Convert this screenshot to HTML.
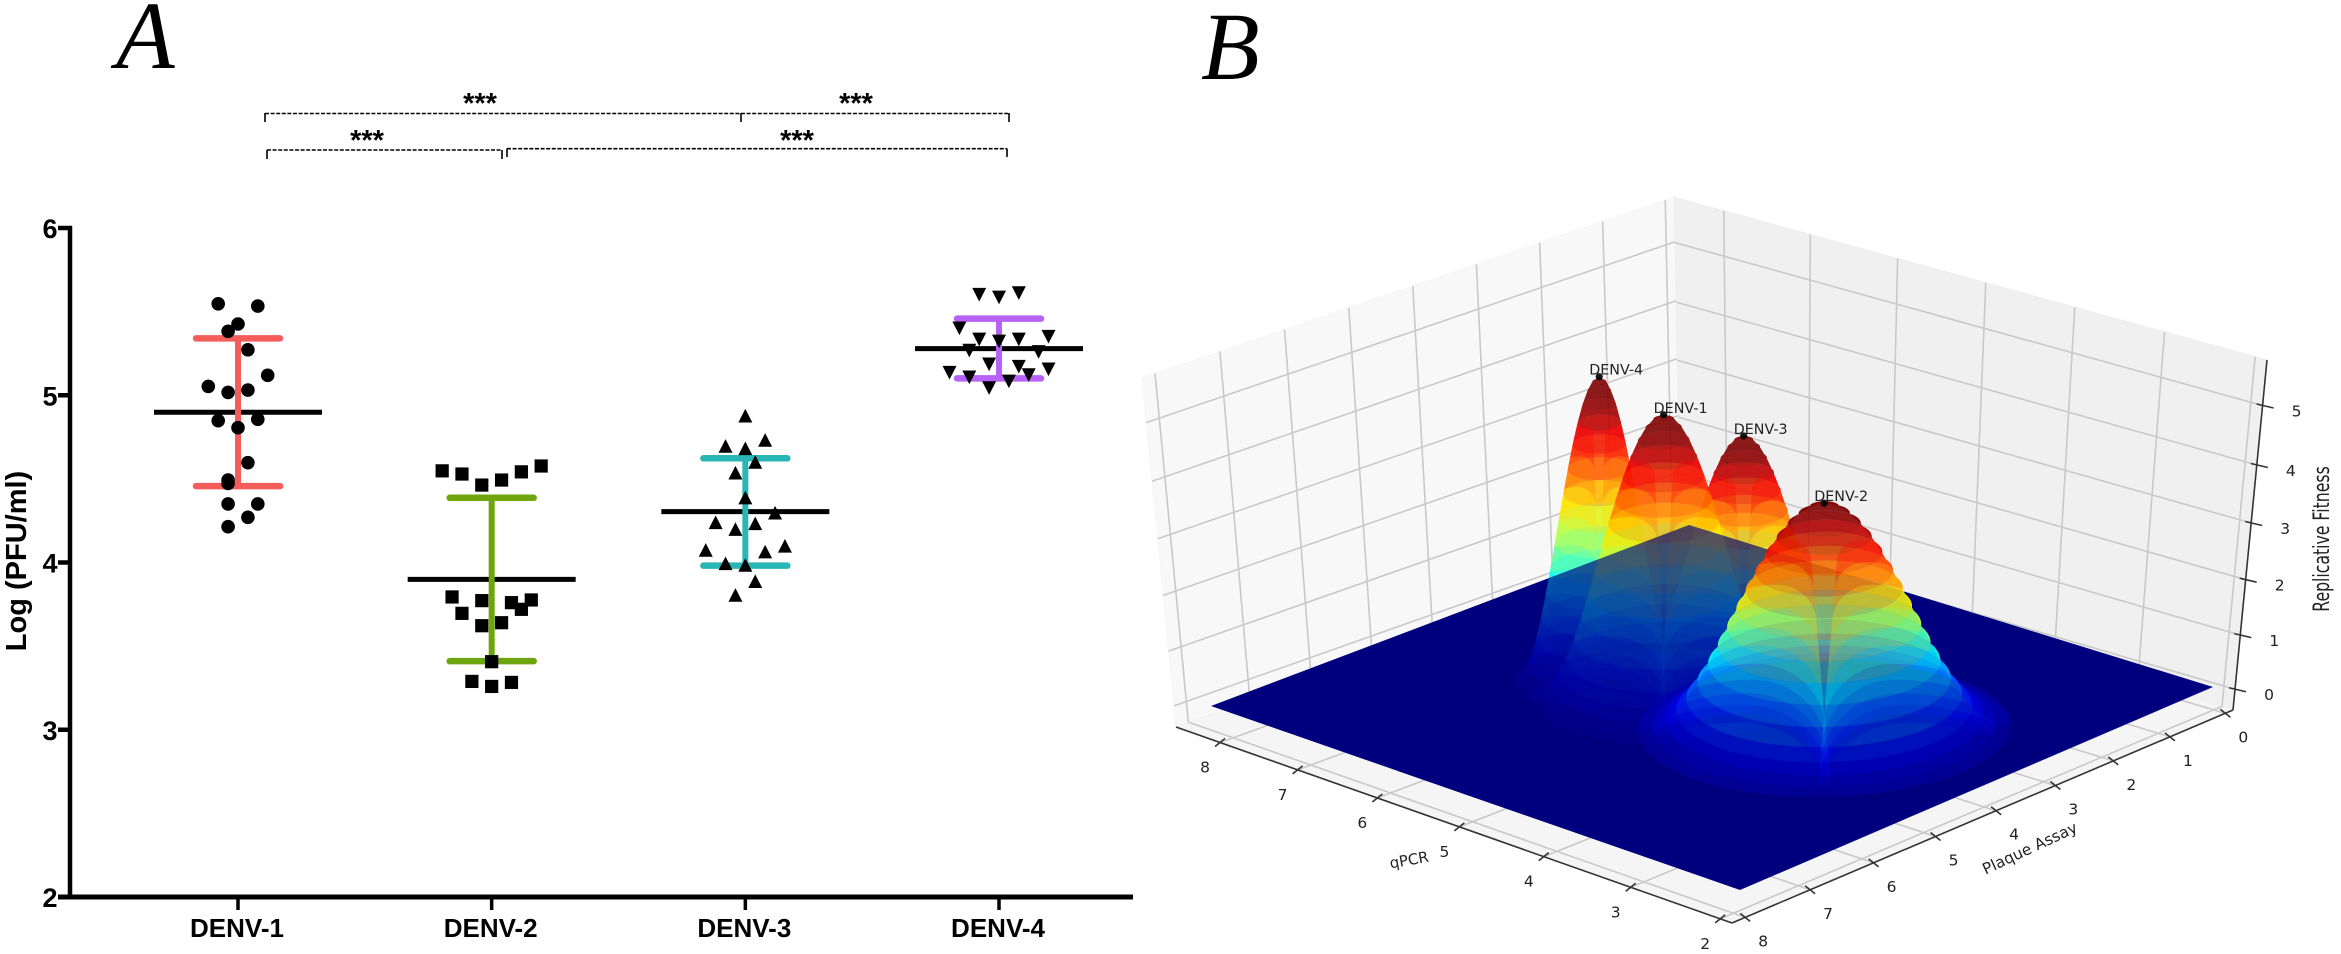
<!DOCTYPE html>
<html lang="en">
<head>
<meta charset="utf-8">
<title>DENV plaque titers and replicative fitness</title>
<style>
html,body{margin:0;padding:0;background:#fff;}
svg{display:block;}
.sans{font-family:"Liberation Sans",sans-serif;font-weight:bold;fill:#000;}
.panel{font-family:"Liberation Serif",serif;font-style:italic;font-size:96px;fill:#000;}
.dj{font-family:"DejaVu Sans",sans-serif;fill:#222;}
.br{fill:none;stroke:#000;stroke-width:1.6;stroke-dasharray:4 1.6;}
.brt{fill:none;stroke:#000;stroke-width:1.6;}
</style>
</head>
<body>
<svg id="figure" xmlns="http://www.w3.org/2000/svg" width="2341" height="954" viewBox="0 0 2341 954">
  <rect x="0" y="0" width="2341" height="954" fill="#fff"/>
  <text class="panel" x="116" y="68">A</text>
  <text class="panel" x="1201" y="79">B</text>

  <g id="significance">
    <path class="br" d="M265 113.5H741"/>
    <path class="brt" d="M265 113V122M741 113V122"/>
    <path class="br" d="M741 113.5H1009"/>
    <path class="brt" d="M1009 113V122"/>
    <path class="br" d="M267 150H502"/>
    <path class="brt" d="M267 150V159M502 150V159"/>
    <path class="br" d="M507 148.7H1007"/>
    <path class="brt" d="M507 148.5V157M1007 148.5V157"/>
    <text class="sans" x="480" y="113" font-size="29" text-anchor="middle">***</text>
    <text class="sans" x="856" y="113" font-size="29" text-anchor="middle">***</text>
    <text class="sans" x="367" y="150" font-size="29" text-anchor="middle">***</text>
    <text class="sans" x="797" y="150" font-size="29" text-anchor="middle">***</text>
  </g>

  <g id="panel-a"></g>
  <text class="sans" font-size="29" text-anchor="middle" transform="translate(26 561) rotate(-90)">Log (PFU/ml)</text>

  <defs id="dyn-defs"><clipPath id="floor-clip"><polygon id="floor-clip-shape" points="0,0"></polygon></clipPath></defs>
  <g id="panel-b"></g>
</svg>

<script>
// ---------- Panel A data ----------
const categories = ['DENV-1', 'DENV-2', 'DENV-3', 'DENV-4'];
const yTicks = [2, 3, 4, 5, 6];
const groupMeans = [4.898, 3.899, 4.304, 5.279];
const groupUpper = [5.340, 4.387, 4.623, 5.458];
const groupLower = [4.457, 3.410, 3.981, 5.101];
const groupColors = ['#f55d5b', '#6ea50c', '#2bb6b6', '#b862f5'];
const denv1Values = [5.547, 5.533, 5.426, 5.382, 5.272, 5.119, 5.053, 5.031, 5.017, 4.856, 4.848, 4.806, 4.597, 4.493, 4.473, 4.350, 4.350, 4.270, 4.214];
const denv1Jitter = [-2, 2, 0, -1, 1, 3, -3, 1, -1, 2, -2, 0, 1, -1, -1, -1, 2, 1, -1];
const denv2Values = [4.548, 4.529, 4.463, 4.493, 4.542, 4.577, 3.794, 3.772, 3.760, 3.776, 3.720, 3.696, 3.640, 3.622, 3.407, 3.289, 3.283, 3.259];
const denv2Jitter = [-5, -3, -1, 1, 3, 5, -4, -1, 2, 4, 3, -3, 1, -1, 0, -2, 2, 0];
const denv3Values = [4.878, 4.733, 4.697, 4.683, 4.601, 4.537, 4.388, 4.298, 4.240, 4.234, 4.200, 4.075, 4.100, 4.065, 3.995, 3.985, 3.888, 3.806];
const denv3Jitter = [0, 2, -2, 0, 1, -1, 0, 3, -3, 1, -1, -4, 4, 2, -2, 0, 1, -1];
const denv4Values = [5.601, 5.585, 5.611, 5.400, 5.350, 5.334, 5.322, 5.334, 5.267, 5.259, 5.185, 5.171, 5.155, 5.135, 5.107, 5.121, 5.083, 5.043];
const denv4Jitter = [-2, 0, 2, -4, 5, -2, 0, 2, -3, 4, -1, 2, 5, -5, -3, 3, 1, -1];

// ---------- Panel B data ----------
const peakNames = ['DENV-4', 'DENV-3', 'DENV-1', 'DENV-2'];
const peakQpcr = [5.93, 4.98, 5.27, 3.80];
const peakPlaque = [4.55, 3.51, 4.43, 3.92];
const peakHeight = [5.28, 4.30, 4.90, 3.90];
const peakSpreadQ = [0.32, 0.45, 0.49, 0.69];
const peakSpreadP = [0.45, 0.62, 0.69, 0.97];
const qpcrTicks = [8, 7, 6, 5, 4, 3, 2];
const plaqueTicks = [0, 1, 2, 3, 4, 5, 6, 7, 8];
const fitnessTicks = [0, 1, 2, 3, 4, 5];

const NS = 'http://www.w3.org/2000/svg';
function mk(tag, attrs, parent, text) {
  const el = document.createElementNS(NS, tag);
  for (const k in attrs) el.setAttribute(k, attrs[k]);
  if (text !== undefined) el.textContent = text;
  parent.appendChild(el);
  return el;
}

// ---------- Panel A drawing ----------
const pa = document.getElementById('panel-a');
const yScale = v => 897 - (v - 2) * 167.25;
const xScale = i => 238 + 253.67 * i;
const jitterScale = j => j * 9.9;

let el;
el = mk('line', {x1: 70, y1: 226, x2: 70, y2: 899, stroke: '#000', 'stroke-width': 4.5}, pa);


el = mk('line', {x1: 58, y1: 897, x2: 1133, y2: 897, stroke: '#000', 'stroke-width': 5}, pa);



yTicks.forEach(t => {
  const tick = mk('line', {x1: 58, y1: yScale(t), x2: 72, y2: yScale(t), stroke: '#000', 'stroke-width': 4.5}, pa);
  
  
  const label = mk('text', {x: 50, y: yScale(t) + 10, 'font-size': 27, 'text-anchor': 'middle', class: 'sans'}, pa, String(t));
  
  
});

categories.forEach((c, i) => {
  const cx = xScale(i);
  const tick = mk('line', {x1: cx, y1: 897, x2: cx, y2: 910, stroke: '#000', 'stroke-width': 3.5}, pa);
  
  
  const label = mk('text', {x: cx - 1, y: 937, 'font-size': 26, 'text-anchor': 'middle', class: 'sans'}, pa, c);
  
  

  const mean = mk('line', {x1: cx - 84, y1: yScale(groupMeans[i]), x2: cx + 84, y2: yScale(groupMeans[i]), stroke: '#000', 'stroke-width': 5}, pa);
  
  
  const bar = mk('line', {x1: cx, y1: yScale(groupUpper[i]), x2: cx, y2: yScale(groupLower[i]), stroke: groupColors[i], 'stroke-width': 6}, pa);
  
  
  [groupUpper[i], groupLower[i]].forEach((v, k) => {
    const cap = mk('line', {x1: cx - 42, y1: yScale(v), x2: cx + 42, y2: yScale(v), stroke: groupColors[i], 'stroke-width': 6.5, 'stroke-linecap': 'round'}, pa);
    
    
  });
});

function drawPoints(values, jitter, i, shape, name) {
  values.forEach((v, k) => {
    const x = xScale(i) + jitterScale(jitter[k]);
    const y = yScale(v);
    let m;
    if (shape === 'circle') m = mk('circle', {cx: x, cy: y, r: 6.8, fill: '#000'}, pa);
    if (shape === 'square') m = mk('rect', {x: x - 6.6, y: y - 6.6, width: 13.2, height: 13.2, fill: '#000'}, pa);
    if (shape === 'up') m = mk('polygon', {points: (x - 7) + ',' + (y + 6.8) + ' ' + (x + 7) + ',' + (y + 6.8) + ' ' + x + ',' + (y - 6.8), fill: '#000'}, pa);
    if (shape === 'down') m = mk('polygon', {points: (x - 7) + ',' + (y - 6.8) + ' ' + (x + 7) + ',' + (y - 6.8) + ' ' + x + ',' + (y + 6.8), fill: '#000'}, pa);
    
    
  });
}
drawPoints(denv1Values, denv1Jitter, 0, 'circle', 'denv-1');
drawPoints(denv2Values, denv2Jitter, 1, 'square', 'denv-2');
drawPoints(denv3Values, denv3Jitter, 2, 'up', 'denv-3');
drawPoints(denv4Values, denv4Jitter, 3, 'down', 'denv-4');

// ---------- Panel B projection ----------
function homography(p0, p1, p2, p3) {
  const dx1 = p1[0] - p2[0], dx2 = p3[0] - p2[0], sx = p0[0] - p1[0] + p2[0] - p3[0];
  const dy1 = p1[1] - p2[1], dy2 = p3[1] - p2[1], sy = p0[1] - p1[1] + p2[1] - p3[1];
  const den = dx1 * dy2 - dx2 * dy1;
  const g = (sx * dy2 - dx2 * sy) / den, h = (dx1 * sy - sx * dy1) / den;
  const a = p1[0] - p0[0] + g * p1[0], b = p3[0] - p0[0] + h * p3[0], c = p0[0];
  const d = p1[1] - p0[1] + g * p1[1], e = p3[1] - p0[1] + h * p3[1], f = p0[1];
  return (u, v) => { const w = g * u + h * v + 1; return [(a * u + b * v + c) / w, (d * u + e * v + f) / w]; };
}
const backBottom = [1681, 548], backTop = [1674, 197];
const leftBottom = [1176, 727], leftTop = [1142, 378];
const rightBottom = [2233, 710], rightTop = [2267, 360];
const frontBottom = [1732, 923];
const Q_MAX = 8.58, Q_MIN = 1.87, P_MIN = -0.14, P_MAX = 8.2, Z_MIN = -0.39, Z_MAX = 5.75;
const uQ = q => (Q_MAX - q) / (Q_MAX - Q_MIN);
const vP = p => (p - P_MIN) / (P_MAX - P_MIN);
const wZ = z => (z - Z_MIN) / (Z_MAX - Z_MIN);
const paneFloorH = homography(backBottom, rightBottom, frontBottom, leftBottom);
const leftWallH = homography(backBottom, leftBottom, leftTop, backTop);
const rightWallH = homography(backBottom, rightBottom, rightTop, backTop);
const paneFloor = (q, p) => paneFloorH(uQ(q), vP(p));
const leftWall = (p, z) => leftWallH(vP(p), wZ(z));
const rightWall = (q, z) => rightWallH(uQ(q), wZ(z));
const surfBack = [1689, 525], surfRight = [2213, 687], surfFront = [1740, 890], surfLeft = [1211, 706];
const surfaceH = homography(surfBack, surfRight, surfFront, surfLeft);
const Z_PX = 58;
const surfacePoint = (q, p, z) => { const s = surfaceH((8 - q) / 6, p / 8); return [s[0], s[1] - z * Z_PX]; };
const pts = a => a.map(o => o[0].toFixed(1) + ',' + o[1].toFixed(1)).join(' ');

const pb = document.getElementById('panel-b');

el = mk('polygon', {points: pts([backBottom, leftBottom, leftTop, backTop]), fill: '#f8f8f8', stroke: '#f6f6f6'}, pb);


el = mk('polygon', {points: pts([backBottom, rightBottom, rightTop, backTop]), fill: '#f0f0f0', stroke: '#eeeeee'}, pb);


el = mk('polygon', {points: pts([backBottom, rightBottom, frontBottom, leftBottom]), fill: '#f5f5f5', stroke: '#f1f1f1'}, pb);



function gridLine(a, b, name) {
  const g = mk('line', {x1: a[0], y1: a[1], x2: b[0], y2: b[1], stroke: '#c9c9c9', 'stroke-width': 1.6}, pb);
  
  
}
fitnessTicks.forEach(z => {
  gridLine(leftWall(P_MIN, z), leftWall(P_MAX, z), 'left-wall-gridline');
  gridLine(rightWall(Q_MAX, z), rightWall(Q_MIN, z), 'right-wall-gridline');
});
plaqueTicks.forEach(p => {
  gridLine(leftWall(p, Z_MIN), leftWall(p, Z_MAX), 'left-wall-gridline');
  gridLine(paneFloor(Q_MAX, p), paneFloor(Q_MIN, p), 'floor-gridline');
});
qpcrTicks.forEach(q => {
  gridLine(rightWall(q, Z_MIN), rightWall(q, Z_MAX), 'right-wall-gridline');
  gridLine(paneFloor(q, P_MIN), paneFloor(q, P_MAX), 'floor-gridline');
});

// axes
function axisLine(a, b, name) {
  const l = mk('line', {x1: a[0], y1: a[1], x2: b[0], y2: b[1], stroke: '#333', 'stroke-width': 1.6}, pb);
  
  
}
axisLine(leftBottom, frontBottom, 'qpcr-axis-line');
axisLine(rightBottom, frontBottom, 'plaque-axis-line');
axisLine(rightBottom, rightTop, 'fitness-axis-line');

function tickLabel(x, y, s, name) {
  const t = mk('text', {x: x, y: y + 6, 'font-size': 15.5, 'text-anchor': 'middle', class: 'dj'}, pb, String(s));
  
  
}
qpcrTicks.forEach(q => {
  const o = paneFloor(q, P_MAX);
  axisLine([o[0] + 5, o[1] - 4], [o[0] - 5, o[1] + 4], 'qpcr-tick');
  tickLabel(o[0] - 15, o[1] + 24, q, 'qpcr-tick-label');
});
plaqueTicks.forEach(p => {
  const o = paneFloor(Q_MIN, p);
  axisLine([o[0] - 5, o[1] - 4], [o[0] + 5, o[1] + 4], 'plaque-tick');
  tickLabel(o[0] + 18, o[1] + 23, p, 'plaque-tick-label');
});
fitnessTicks.forEach(z => {
  const e = rightWall(Q_MIN, z);
  axisLine([e[0] - 6, e[1] - 1.5], [e[0] + 11, e[1] + 2.5], 'fitness-tick');
  tickLabel(e[0] + 34, e[1] + 5, z, 'fitness-tick-label');
});

// jet colour
function clamp(x) { return Math.max(0, Math.min(1, x)); }
function jet(t) {
  const v = Math.min(1, t * 1.08 + 0.02);
  const r = clamp(1.5 - Math.abs(4 * v - 3));
  const g = clamp(1.5 - Math.abs(4 * v - 2));
  const b = clamp(1.5 - Math.abs(4 * v - 1));
  return 'rgb(' + Math.round(r * 255) + ',' + Math.round(g * 255) + ',' + Math.round(b * 255) + ')';
}

// dome profile: radius of the contour at fraction t of peak height
const domeRadius = t => t >= 1 ? 0 : 0.5 * (Math.sqrt(-2 * Math.log(t)) + 1.43 * Math.sqrt(1 - t));
const levels = [0.012, 0.03, 0.06, 0.1, 0.15, 0.22, 0.3, 0.38, 0.46, 0.54, 0.62, 0.7, 0.78, 0.85, 0.91, 0.955, 0.985, 1];
const lobeLevels = [0.84, 0.74, 0.64, 0.54, 0.45, 0.37, 0.29, 0.22, 0.16, 0.11, 0.07, 0.03];
const RING_N = 72;
function ringPoints(i, t) {
  const r = domeRadius(t);
  const out = [];
  for (let k = 0; k < RING_N; k++) {
    const a = 2 * Math.PI * k / RING_N;
    out.push(surfacePoint(peakQpcr[i] + peakSpreadQ[i] * r * Math.cos(a),
                          peakPlaque[i] + peakSpreadP[i] * r * Math.sin(a),
                          peakHeight[i] * t));
  }
  return out;
}
function drawPeak(i, parent) {
  const probe = ringPoints(i, 0.2);
  let iL = 0, iR = 0;
  probe.forEach((o, k) => { if (o[0] < probe[iL][0]) iL = k; if (o[0] > probe[iR][0]) iR = k; });
  const arc = (from, to) => { const a = []; let k = from; for (;;) { a.push(k); if (k === to) break; k = (k + 1) % RING_N; } return a; };
  const arcA = arc(iL, iR), arcB = arc(iR, iL);
  const meanY = a => a.reduce((s, k) => s + probe[k][1], 0) / a.length;
  const frontArc = meanY(arcA) > meanY(arcB) ? arcA : arcB;
  const backArc = frontArc === arcA ? arcB : arcA;
  const strip = (arcIdx, band, alpha) => {
    const outer = ringPoints(i, levels[band]);
    const inner = ringPoints(i, levels[band + 1]);
    const poly = arcIdx.map(k => outer[k]).concat(arcIdx.slice().reverse().map(k => inner[k]));
    const t = (levels[band] + levels[band + 1]) / 2;
    const s = mk('polygon', {points: pts(poly), fill: jet(t), 'fill-opacity': alpha}, parent);
    
    
  };
  for (let b = 0; b < levels.length - 1; b++) strip(backArc, b, 0.8);
  for (let b = levels.length - 2; b >= 0; b--) strip(frontArc, b, 0.48);

  // clip arches to this dome's silhouette
  const silhouette = [];
  levels.slice(1, -1).forEach(t => { silhouette.push(ringPoints(i, t)[iL]); });
  levels.slice(1, -1).reverse().forEach(t => { silhouette.push(ringPoints(i, t)[iR]); });
  const lowRing = ringPoints(i, levels[1]);
  const lowFront = frontArc[0] === iR ? frontArc : frontArc.slice().reverse();
  lowFront.forEach(k => silhouette.push(lowRing[k]));
  const clip = mk('clipPath', {id: 'dome-clip-' + i}, document.getElementById('dyn-defs'));
  mk('polygon', {points: pts(silhouette)}, clip);
  const archGroup = mk('g', {'clip-path': 'url(#dome-clip-' + i + ')'}, parent);
  
  

  // nested arches on either flank; outer legs run past the silhouette and get clipped
  const base = surfacePoint(peakQpcr[i], peakPlaque[i], 0);
  const spread = Math.hypot(88 * peakSpreadQ[i], 59 * peakSpreadP[i]);
  const archPoints = (side, t) => {
    const cx = base[0] + side * spread * (0.32 + 0.7 * (1 - t));
    const hw = spread * (0.12 + 1.0 * (1 - t));
    const top = base[1] - peakHeight[i] * Z_PX * t;
    const depth = hw * 0.95;
    const out = [];
    for (let k = 0; k <= 28; k++) {
      const a = Math.PI * k / 28;
      const cosA = Math.cos(a);
      const outward = cosA * side < 0;
      const w = outward ? hw * 1.1 : hw;
      const d = outward ? depth * 1.1 : depth;
      out.push([cx - w * cosA * (outward ? 1.6 : 1), top + d * (1 - Math.sin(a))]);
    }
    return out;
  };
  [-1, 1].forEach(side => {
    for (let b = 0; b < lobeLevels.length - 1; b++) {
      const upper = archPoints(side, lobeLevels[b]);
      const lower = archPoints(side, lobeLevels[b + 1]);
      const t = (lobeLevels[b] + lobeLevels[b + 1]) / 2;
      const s = mk('polygon', {points: pts(upper.concat(lower.slice().reverse())), fill: jet(t), 'fill-opacity': 0.3}, archGroup);
      
      
    }
  });
}

const backPeaks = mk('g', {id: 'back-peaks'}, pb);


drawPeak(0, backPeaks);
drawPeak(1, backPeaks);
drawPeak(2, backPeaks);

const floorCorners = pts([surfBack, surfRight, surfFront, surfLeft]);
document.getElementById('floor-clip-shape').setAttribute('points', floorCorners);
el = mk('polygon', {points: floorCorners, fill: '#00007f'}, pb);


const ghostWrap = mk('g', {'clip-path': 'url(#floor-clip)', opacity: 0.36}, pb);


el = mk('use', {href: '#back-peaks'}, ghostWrap);



const frontPeak = mk('g', {}, pb);


drawPeak(3, frontPeak);

peakNames.forEach((n, i) => {
  const top = surfacePoint(peakQpcr[i], peakPlaque[i], peakHeight[i]);
  const dot = mk('circle', {cx: top[0], cy: top[1], r: 3.6, fill: '#000', 'fill-opacity': 0.9}, pb);
  
  
  const label = mk('text', {x: top[0] - 10, y: top[1] - 2, 'font-size': 14.3, class: 'dj'}, pb, n);
  
  
});

el = mk('text', {'font-size': 15, 'text-anchor': 'middle', class: 'dj', transform: 'translate(1410 865) rotate(-10)'}, pb, 'qPCR');


el = mk('text', {'font-size': 15.5, 'text-anchor': 'middle', class: 'dj', transform: 'translate(2032 853) rotate(-25)'}, pb, 'Plaque Assay');


el = mk('text', {'font-size': 15.7, 'text-anchor': 'middle', class: 'dj', transform: 'translate(2329 539) scale(1.4 1) rotate(-90)'}, pb, 'Replicative Fitness');


</script>
</body>
</html>
